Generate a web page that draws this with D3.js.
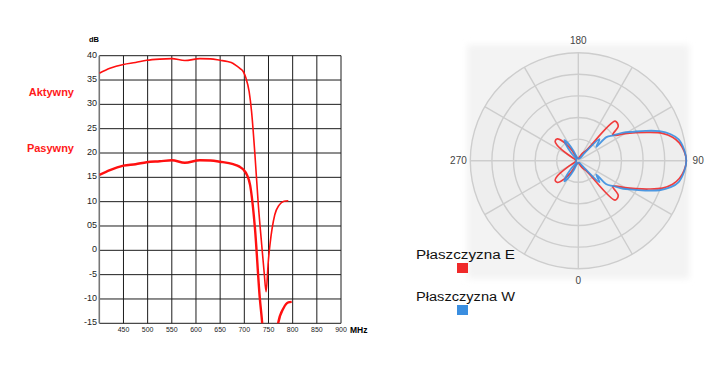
<!DOCTYPE html>
<html lang="pl">

<head>
  <meta charset="UTF-8">
  <title>Charakterystyka anteny</title>
  <script src="https://d3js.org/d3.v7.min.js"></script>
  <style>
    body { margin: 0; background: #fff; }
    svg { display: block; font-family: "Liberation Sans", Arial, sans-serif; }
  </style>
</head>

<body>
  <svg id="antenna" width="727" height="372"></svg>

  <script>
    // ---- gain vs frequency ----
    const freqTicks = [450, 500, 550, 600, 650, 700, 750, 800, 850, 900];
    const dbTicks = [40, 35, 30, 25, 20, 15, 10, 5, 0, -5, -10, -15];
    const dbTickLabels = ["40", "35", "30", "25", "20", "15", "10", "05", "0", "-5", "-10", "-15"];

    const aktywnyFreq = [400, 422, 450, 475, 498, 525, 550, 577, 608, 630, 650, 665, 677, 684, 692, 698, 703, 710, 715, 722, 729, 736, 741, 745, 749.6, 753, 763, 772, 782, 791];
    const aktywnyDb = [36.4, 37.4, 38.2, 38.6, 39.05, 39.3, 39.4, 39.0, 39.4, 39.35, 39.05, 38.8, 38.4, 37.9, 37.3, 36.7, 35.5, 32.6, 28.5, 19.6, 9.3, 1.1, -4.5, -8.5, -2.3, 1.1, 7.3, 9.3, 10.1, 10.2];

    const pasywnyFreq = [400, 422, 450, 475, 498, 525, 550, 577, 608, 630, 650, 677, 690, 698, 705, 712, 722, 732, 737, 745, 755, 763, 770, 781, 791, 798];
    const pasywnyDb = [15.5, 16.5, 17.4, 17.7, 18.1, 18.3, 18.5, 18.0, 18.5, 18.45, 18.2, 17.7, 17.2, 16.6, 15.6, 13.4, 4.5, -9.8, -15, -28, -35, -26, -15, -11.9, -10.7, -10.6];

    // ---- radiation pattern (angle in degrees, relative level 0..1) ----
    const polarAngleTicks = [0, 90, 180, 270];
    const polarTickLabels = ["0", "90", "180", "270"];

    const eAngles = [0, 20, 30, 38, 43, 49, 53, 56, 60, 64, 68, 72, 76, 80, 85, 90, 95, 100, 104, 108, 112, 116, 120, 124, 127, 131, 137, 142, 150, 160, 180, 205, 212, 218, 224, 230, 234, 240, 250, 270, 290, 300, 306, 310, 316, 322, 328, 335];
    const eLevel = [0.02, 0.04, 0.08, 0.12, 0.50, 0.49, 0.40, 0.42, 0.50, 0.59, 0.70, 0.82, 0.90, 0.95, 0.985, 1.0, 0.985, 0.95, 0.90, 0.82, 0.70, 0.59, 0.50, 0.42, 0.40, 0.49, 0.50, 0.12, 0.08, 0.04, 0.02, 0.03, 0.12, 0.22, 0.28, 0.28, 0.24, 0.10, 0.03, 0.02, 0.03, 0.10, 0.24, 0.28, 0.28, 0.22, 0.12, 0.03];

    const wAngles = [0, 20, 34, 40, 44.5, 52.5, 50, 54, 58, 62, 66, 70, 74, 78, 84, 90, 96, 102, 106, 110, 114, 118, 122, 126, 130, 127.5, 135.5, 140, 146, 160, 180, 200, 206, 210, 214, 218, 222, 228, 250, 270, 290, 312, 318, 322, 326, 330, 334, 340];
    const wLevel = [0.02, 0.02, 0.03, 0.10, 0.28, 0.21, 0.34, 0.40, 0.49, 0.57, 0.68, 0.80, 0.89, 0.95, 0.985, 1.0, 0.985, 0.95, 0.89, 0.80, 0.68, 0.57, 0.49, 0.40, 0.34, 0.21, 0.28, 0.10, 0.03, 0.02, 0.02, 0.03, 0.10, 0.18, 0.23, 0.18, 0.10, 0.03, 0.02, 0.02, 0.02, 0.03, 0.10, 0.18, 0.23, 0.18, 0.10, 0.03];

    const legendNames = ["Płaszczyzna E", "Płaszczyzna W"];
    const legendColors = ["#f02a2a", "#3a8ee0"];

    const svg = d3.select('svg#antenna');

    //----------------------------------------------------------
    // left chart
    const x = d3.scaleLinear().domain([400, 900]).range([99.3, 341]);
    const y = d3.scaleLinear().domain([-15, 40]).range([323.3, 55.7]);

    let grid = svg.append('g').attr('id', 'grid');

    grid.selectAll('line.h').data(dbTicks).join('line')
      .attr('class', 'h')
      .attr('x1', x(400)).attr('x2', x(900))
      .attr('y1', d => y(d)).attr('y2', d => y(d))
      .attr('stroke', '#1c1c1c').attr('stroke-width', 1);

    grid.selectAll('line.v').data([400].concat(freqTicks)).join('line')
      .attr('class', 'v')
      .attr('y1', y(40)).attr('y2', y(-15))
      .attr('x1', d => x(d)).attr('x2', d => x(d))
      .attr('stroke', d => d == 400 ? '#777' : '#1c1c1c')
      .attr('stroke-width', d => d == 400 ? 1.6 : 1);

    grid.selectAll('text.ylab').data(dbTicks).join('text')
      .attr('class', 'ylab')
      .attr('x', 97).attr('y', d => y(d) + 2)
      .attr('text-anchor', 'end')
      .style('font-size', '9px').style('fill', '#222')
      .text((d, i) => dbTickLabels[i]);

    grid.selectAll('text.xlab').data(freqTicks).join('text')
      .attr('class', 'xlab')
      .attr('x', d => x(d)).attr('y', 331.5)
      .attr('text-anchor', 'middle')
      .style('font-size', '7px').style('fill', '#222')
      .text(d => d);

    grid.append('text').attr('x', 89).attr('y', 41.5)
      .style('font-size', '7.5px').style('font-weight', 'bold').text('dB');
    grid.append('text').attr('x', 350).attr('y', 332.5)
      .style('font-size', '8.5px').style('font-weight', 'bold').text('MHz');

    svg.append('clipPath').attr('id', 'plot-clip')
      .append('rect')
      .attr('x', x(400)).attr('y', y(40))
      .attr('width', x(900) - x(400)).attr('height', y(-15) - y(40));

    const gainLine = d3.line()
      .x(d => x(d[0]))
      .y(d => y(d[1]))
      .curve(d3.curveMonotoneX);

    let curves = svg.append('g').attr('clip-path', 'url(#plot-clip)');

    curves.append('path')
      .datum(d3.zip(aktywnyFreq, aktywnyDb))
      .attr('d', gainLine)
      .attr('fill', 'none').attr('stroke', '#ff1010').attr('stroke-width', 1.6);

    curves.append('path')
      .datum(d3.zip(pasywnyFreq, pasywnyDb))
      .attr('d', gainLine)
      .attr('fill', 'none').attr('stroke', '#ff1010').attr('stroke-width', 2.4);

    // series names
    svg.append('text').attr('x', 74).attr('y', 96)
      .attr('text-anchor', 'end')
      .style('font-size', '11px').style('font-weight', 'bold').style('fill', '#ff1a1a')
      .text('Aktywny');
    svg.append('text').attr('x', 74).attr('y', 152)
      .attr('text-anchor', 'end')
      .style('font-size', '11px').style('font-weight', 'bold').style('fill', '#ff1a1a')
      .text('Pasywny');

    //----------------------------------------------------------
    // polar chart
    const cx = 578.3, cy = 160.7;
    const r = d3.scaleLinear().domain([0, 1]).range([0, 108]);
    const toRad = deg => Math.PI - deg * Math.PI / 180;   // 0 at bottom, 90 at right

    let defs = svg.append('defs');
    defs.append('filter').attr('id', 'soft')
      .attr('x', '-10%').attr('y', '-10%').attr('width', '120%').attr('height', '120%')
      .append('feGaussianBlur').attr('stdDeviation', 3);

    let polar = svg.append('g').attr('transform', 'translate(' + cx + ',' + cy + ')');

    polar.append('rect')
      .attr('x', -111).attr('y', -116).attr('width', 222).attr('height', 234)
      .attr('fill', '#f3f3f3').attr('filter', 'url(#soft)');

    polar.append('circle').attr('r', r(1)).attr('fill', '#eeeeee');

    polar.selectAll('circle.ring').data([0.2, 0.4, 0.6, 0.8, 1.0]).join('circle')
      .attr('class', 'ring')
      .attr('r', d => r(d))
      .attr('fill', 'none').attr('stroke', '#cdcdcd').attr('stroke-width', 1.4);

    polar.selectAll('line.spoke').data(d3.range(0, 360, 30)).join('line')
      .attr('class', 'spoke')
      .attr('x2', d => r(1) * Math.sin(toRad(d)))
      .attr('y2', d => -r(1) * Math.cos(toRad(d)))
      .attr('stroke', '#cdcdcd').attr('stroke-width', 1.4);

    polar.selectAll('text.alab').data(polarAngleTicks).join('text')
      .attr('class', 'alab')
      .attr('x', d => r(1.11) * Math.sin(toRad(d)))
      .attr('y', d => -r(1.11) * Math.cos(toRad(d)) + 3.5)
      .attr('text-anchor', 'middle')
      .style('font-size', '10px').style('fill', '#444')
      .text((d, i) => polarTickLabels[i]);

    const patternLine = d3.lineRadial()
      .angle(d => toRad(d[0]))
      .radius(d => r(d[1]))
      .curve(d3.curveCatmullRomClosed.alpha(0.5));

    polar.append('path')
      .datum(d3.zip(eAngles, eLevel))
      .attr('d', patternLine)
      .attr('fill', 'none').attr('stroke', legendColors[0]).attr('stroke-width', 1.7).attr('opacity', 0.9);

    polar.append('path')
      .datum(d3.zip(wAngles, wLevel))
      .attr('d', patternLine)
      .attr('fill', 'none').attr('stroke', legendColors[1]).attr('stroke-width', 1.8).attr('opacity', 0.9);

    // legend
    let legend = svg.append('g').attr('id', 'legend');
    legend.selectAll('text').data(legendNames).join('text')
      .attr('x', 416).attr('y', (d, i) => 258.5 + i * 42.2)
      .attr('textLength', 99).attr('lengthAdjust', 'spacingAndGlyphs')
      .style('font-size', '12.5px').style('fill', '#111')
      .text(d => d);
    legend.selectAll('rect').data(legendColors).join('rect')
      .attr('x', 457).attr('y', (d, i) => 263 + i * 42)
      .attr('width', 11).attr('height', 10)
      .attr('fill', d => d);
  </script>
</body>

</html>
